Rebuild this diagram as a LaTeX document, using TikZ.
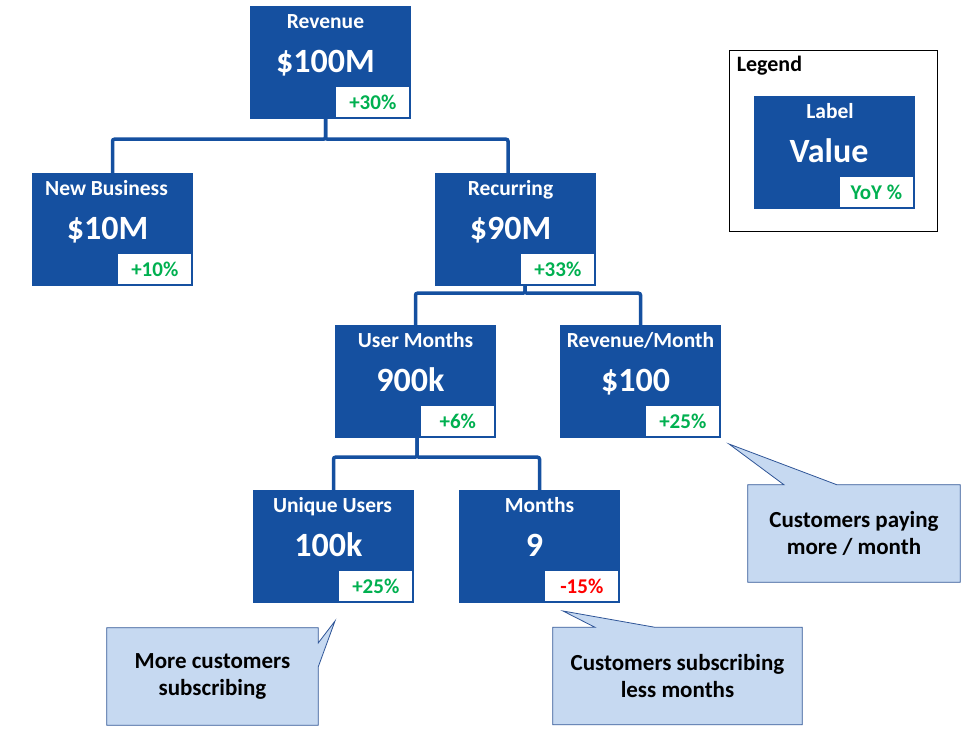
\documentclass[tikz,border=0pt]{standalone}
\usepackage{fontspec}
\setmainfont{Carlito}
\usetikzlibrary{calc,backgrounds}
\definecolor{kpiblue}{RGB}{21,80,160}
\definecolor{pctgreen}{RGB}{0,176,80}
\definecolor{pctred}{RGB}{255,0,0}
\definecolor{notebg}{RGB}{198,217,241}
\definecolor{noteline}{RGB}{47,85,151}
% one metric box: [label shift], name, centre, label, value, change, colour of change
\newcommand{\kpibox}[7][-5]{%
  \node[kpi] (#2) at (#3) {};
  \node[kpilabel] at ($(#2.north)+(#1,23)$) {#4};
  \node[kpivalue] at ($(#2.north)+(-5,67)$) {#5};
  \node[pctbox, text=#7] (#2-pct) at ($(#2.south east)+(-1,-1)$) {#6};
}
\begin{document}
\begin{tikzpicture}[x=1pt,y=-1pt,
  kpi/.style={rectangle, fill=kpiblue, minimum width=161pt, minimum height=113pt, inner sep=0pt},
  kpilabel/.style={anchor=base, text=white, inner sep=0pt, font=\bfseries\fontsize{21.5}{24}\selectfont},
  kpivalue/.style={anchor=base, text=white, inner sep=0pt, font=\bfseries\fontsize{34}{38}\selectfont},
  pctbox/.style={anchor=south east, fill=white, draw=kpiblue, line width=0.8pt, minimum width=74pt,
    minimum height=31pt, inner sep=0pt, font=\bfseries\fontsize{21}{24}\selectfont},
  link/.style={draw=kpiblue, line width=3.5pt, rounded corners=2pt},
  note/.style={minimum width=#1, minimum height=97pt, inner sep=0pt, align=center,
    font=\bfseries\fontsize{23}{27.5}\selectfont},
  noteshape/.style={fill=notebg, draw=noteline, line width=0.8pt}]
\useasboundingbox (0,0) rectangle (975,741);

\kpibox{rev}{330.5,62.5}{Revenue}{\$100M}{+30\%}{pctgreen}
\kpibox[-6]{nb}{112.5,229.5}{New Business}{\$10M}{+10\%}{pctgreen}
\kpibox{rec}{515.5,229.5}{Recurring}{\$90M}{+33\%}{pctgreen}
\kpibox[0]{um}{415.5,381.5}{User Months}{900k}{+6\%}{pctgreen}
\kpibox[0]{rpm}{640.5,381.5}{Revenue/Month}{\$100}{+25\%}{pctgreen}
\kpibox[-1]{uu}{333.5,546.5}{Unique Users}{100k}{+25\%}{pctgreen}
\kpibox[0]{mo}{539.5,546.5}{Months}{9}{-15\%}{pctred}

\draw[link] ($(rev.south)+(-5,0)$) -- ++(0,20) -| (nb.north);
\draw[link] ($(rev.south)+(-5,0)$) -- ++(0,20) -| ($(rec.north)+(-7.5,0)$);
\draw[link] ($(rec.south)+(9.5,0)$) -- ++(0,7) -| (um.north);
\draw[link] ($(rec.south)+(9.5,0)$) -- ++(0,7) -| (rpm.north);
\draw[link] ($(um.south)+(1.5,0)$) -- ++(0,19) -| (uu.north);
\draw[link] ($(um.south)+(1.5,0)$) -- ++(0,19) -| (mo.north);

% legend
\node[draw=black, line width=0.8pt, minimum width=208pt, minimum height=181pt] (legend) at (833,140.5) {};
\node[anchor=base west, inner sep=0pt, font=\bfseries\fontsize{22}{24}\selectfont] (legendtitle)
  at ($(legend.north west)+(8,22)$) {Legend};
\kpibox[-4]{key}{834,152.5}{Label}{Value}{YoY \%}{pctgreen}

% callouts
\coordinate (tipPay) at (729,444);
\coordinate (tipMore) at (335,621);
\coordinate (tipLess) at (563,611);
\node[note=212pt] (cPay) at (854,533.5) {Customers paying\\more / month};
\node[note=211pt] (cMore) at (212.5,676.5) {More customers\\subscribing};
\node[note=249pt] (cLess) at (677.5,676) {Customers subscribing\\less months};
\begin{scope}[on background layer]
\draw[noteshape] (cPay.north west) -- ($(cPay.north)+(-70,0)$) -- (tipPay) -- ($(cPay.north)+(-17,0)$)
  -- (cPay.north east) -- (cPay.south east) -- (cPay.south west) -- cycle;
\draw[noteshape] (cMore.north west) -- (cMore.north east) -- ($(cMore.east)+(0,-33.5)$) -- (tipMore)
  -- ($(cMore.east)+(0,-9.5)$) -- (cMore.south east) -- (cMore.south west) -- cycle;
\draw[noteshape] (cLess.north west) -- ($(cLess.north)+(-82.5,0)$) -- (tipLess) -- ($(cLess.north)+(-22.5,0)$)
  -- (cLess.north east) -- (cLess.south east) -- (cLess.south west) -- cycle;
\end{scope}
\end{tikzpicture}
\end{document}
